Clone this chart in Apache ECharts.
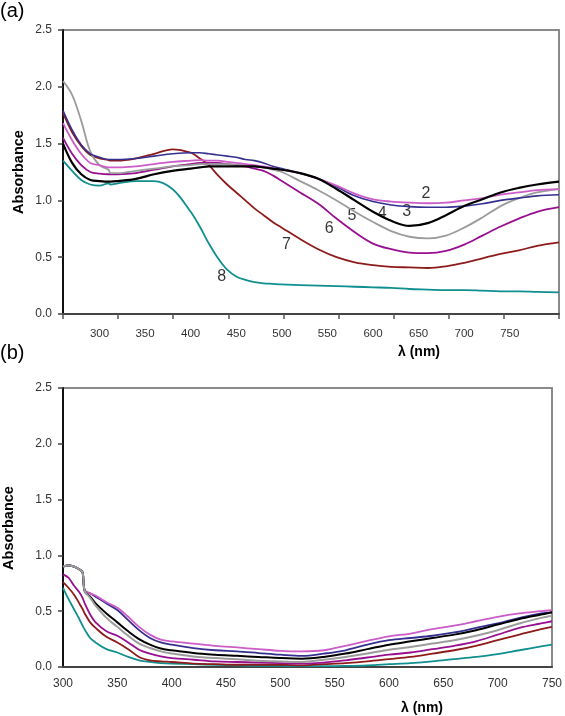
<!DOCTYPE html>
<html>
<head>
<meta charset="utf-8">
<script src="https://cdn.jsdelivr.net/npm/echarts@6/dist/echarts.min.js"></script>
<style>
html,body{margin:0;padding:0;background:#fff;}
#chart{width:565px;height:716px;}
</style>
</head>
<body>
<div id="chart"></div>
<script>
// ---------- Panel (a) ----------
const wlA = [260,270,280,290,300,310,312,320,340,360,380,400,410,420,430,440,450,460,470,480,490,500,520,540,560,580,600,620,640,660,680,700,720,740,760,780,804];
const a2 = [1.68,1.53,1.41,1.33,1.31,1.29,1.29,1.29,1.30,1.32,1.34,1.35,1.355,1.35,1.35,1.34,1.33,1.32,1.31,1.30,1.285,1.27,1.24,1.19,1.13,1.06,1.01,0.99,0.98,0.975,0.98,1.00,1.02,1.05,1.07,1.09,1.10];
const a3 = [1.79,1.62,1.49,1.41,1.38,1.36,1.36,1.36,1.37,1.39,1.41,1.42,1.42,1.41,1.40,1.39,1.38,1.36,1.35,1.33,1.30,1.28,1.24,1.19,1.12,1.04,0.99,0.96,0.945,0.94,0.94,0.95,0.97,1.00,1.02,1.04,1.05];
const a4 = [1.50,1.33,1.23,1.18,1.17,1.165,1.165,1.17,1.19,1.23,1.26,1.28,1.29,1.30,1.30,1.30,1.30,1.30,1.30,1.29,1.28,1.27,1.24,1.19,1.10,1.00,0.90,0.82,0.775,0.80,0.87,0.95,1.01,1.07,1.11,1.14,1.165];
const a5 = [2.05,1.93,1.70,1.43,1.31,1.27,1.24,1.24,1.26,1.28,1.30,1.31,1.32,1.32,1.32,1.32,1.315,1.31,1.30,1.29,1.27,1.25,1.17,1.09,1.00,0.90,0.81,0.73,0.68,0.665,0.69,0.76,0.85,0.95,1.02,1.07,1.10];
const a6 = [1.55,1.41,1.31,1.25,1.235,1.23,1.23,1.23,1.24,1.27,1.30,1.32,1.33,1.33,1.33,1.32,1.31,1.30,1.28,1.26,1.22,1.17,1.07,0.97,0.84,0.72,0.62,0.57,0.54,0.535,0.555,0.61,0.69,0.77,0.84,0.90,0.94];
const a7 = [1.77,1.60,1.48,1.40,1.37,1.355,1.35,1.35,1.37,1.41,1.45,1.42,1.37,1.31,1.22,1.14,1.07,1.00,0.93,0.87,0.81,0.76,0.66,0.57,0.50,0.455,0.43,0.415,0.41,0.405,0.42,0.45,0.49,0.53,0.56,0.60,0.63];
const a8 = [1.35,1.26,1.18,1.14,1.13,1.15,1.14,1.15,1.17,1.17,1.10,0.90,0.77,0.62,0.49,0.39,0.33,0.30,0.28,0.27,0.265,0.26,0.255,0.25,0.245,0.24,0.235,0.23,0.22,0.215,0.21,0.21,0.205,0.20,0.20,0.195,0.19];
const xLabelsA = [300,350,400,450,500,550,600,650,700,750];
const annotText = ['2','3','4','5','6','7','8'];
const annotWl = [658,637,610,577,552,505,434];
const annotAbs = [1.06,0.90,0.885,0.87,0.755,0.615,0.33];

// ---------- Panel (b) ----------
const wlB = [300,305,310,315,318,320,325,330,340,350,360,370,380,390,400,420,440,460,480,500,520,540,560,580,600,620,640,660,680,700,720,740,750];
const b2 = [0.90,0.91,0.90,0.875,0.85,0.69,0.66,0.64,0.58,0.53,0.45,0.36,0.29,0.245,0.23,0.21,0.19,0.175,0.16,0.145,0.14,0.15,0.19,0.235,0.275,0.30,0.34,0.37,0.41,0.45,0.48,0.50,0.51];
const b3 = [0.90,0.91,0.90,0.875,0.85,0.68,0.66,0.63,0.57,0.51,0.42,0.33,0.26,0.22,0.20,0.17,0.15,0.14,0.125,0.11,0.10,0.12,0.15,0.20,0.24,0.26,0.28,0.31,0.35,0.39,0.44,0.48,0.49];
const b4 = [0.90,0.91,0.90,0.875,0.85,0.68,0.63,0.57,0.48,0.40,0.32,0.25,0.20,0.165,0.15,0.125,0.11,0.10,0.09,0.08,0.075,0.09,0.12,0.16,0.20,0.23,0.26,0.29,0.33,0.38,0.43,0.47,0.49];
const b5 = [0.90,0.91,0.90,0.875,0.85,0.68,0.62,0.55,0.44,0.36,0.28,0.21,0.17,0.14,0.12,0.095,0.08,0.07,0.056,0.05,0.045,0.065,0.09,0.12,0.155,0.18,0.21,0.24,0.28,0.33,0.39,0.44,0.46];
const b6 = [0.83,0.80,0.73,0.67,0.62,0.57,0.47,0.40,0.32,0.28,0.22,0.155,0.12,0.095,0.08,0.065,0.05,0.045,0.04,0.035,0.03,0.04,0.06,0.085,0.11,0.13,0.16,0.19,0.23,0.29,0.35,0.39,0.41];
const b7 = [0.76,0.71,0.65,0.57,0.52,0.48,0.40,0.35,0.27,0.22,0.16,0.09,0.06,0.05,0.045,0.03,0.025,0.02,0.02,0.02,0.015,0.025,0.035,0.05,0.07,0.09,0.12,0.15,0.19,0.24,0.29,0.34,0.36];
const b8 = [0.71,0.61,0.52,0.43,0.37,0.335,0.26,0.22,0.16,0.13,0.09,0.06,0.045,0.035,0.03,0.025,0.02,0.015,0.01,0.01,0.008,0.008,0.01,0.015,0.025,0.035,0.05,0.07,0.09,0.115,0.15,0.185,0.20];

const colors = {c2:'#cc5cc8', c3:'#35308f', c4:'#000000', c5:'#9c9c9c', c6:'#980f90', c7:'#8e1b1b', c8:'#0f8f8f'};
const FONT = '"Liberation Sans", Arial, Helvetica, sans-serif';

const xMinA = 260, xMaxA = 804;
const tickCountA = 9;
const ticksA = [];
for (let k = 0; k <= tickCountA; k++) ticksA.push(xMinA + k * (xMaxA - xMinA) / tickCountA);

function pairs(x, y){ return x.map((v,i)=>[v,y[i]]); }

function lineSeries(idx, x, y, color, w){
  return {type:'line', xAxisIndex:idx, yAxisIndex:idx, data:pairs(x,y), showSymbol:false, symbol:'none',
          smooth:0.35, lineStyle:{color:color, width:w}, silent:true};
}

const yAxisCommon = {
  type:'value', min:0, max:2.5, interval:0.5,
  axisLine:{show:true, lineStyle:{color:'#111', width:2}},
  axisTick:{show:true, inside:false, length:5, lineStyle:{color:'#444', width:1.5}},
  axisLabel:{color:'#333', fontSize:12, fontFamily:FONT, margin:11, formatter:v=>v.toFixed(1)},
  splitLine:{show:false}
};

const option = {
  animation:false,
  backgroundColor:'#ffffff',
  grid:[
    {left:63, top:30, width:496, height:284, show:true, borderColor:'#8a8a8a', borderWidth:2, backgroundColor:'transparent'},
    {left:63, top:388, width:492, height:279, show:true, borderColor:'#8a8a8a', borderWidth:2, backgroundColor:'transparent'}
  ],
  xAxis:[
    {gridIndex:0, type:'value', min:xMinA, max:xMaxA,
     axisLine:{show:true, onZero:false, lineStyle:{color:'#444', width:2}},
     axisTick:{show:true, length:5, customValues:ticksA, lineStyle:{color:'#555', width:1.5}},
     axisLabel:{customValues:xLabelsA, color:'#333', fontSize:11.5, fontFamily:FONT, margin:14},
     splitLine:{show:false}},
    {gridIndex:1, type:'value', min:300, max:750, interval:50,
     axisLine:{show:true, onZero:false, lineStyle:{color:'#444', width:2}},
     axisTick:{show:false},
     axisLabel:{color:'#333', fontSize:12, fontFamily:FONT, margin:11, showMinLabel:true, showMaxLabel:true},
     splitLine:{show:false}}
  ],
  yAxis:[
    Object.assign({gridIndex:0}, yAxisCommon),
    Object.assign({gridIndex:1}, yAxisCommon)
  ],
  series:[
    lineSeries(0, wlA, a8, colors.c8, 1.8),
    lineSeries(0, wlA, a7, colors.c7, 1.8),
    lineSeries(0, wlA, a6, colors.c6, 1.8),
    lineSeries(0, wlA, a5, colors.c5, 1.8),
    lineSeries(0, wlA, a3, colors.c3, 1.6),
    lineSeries(0, wlA, a2, colors.c2, 1.8),
    lineSeries(0, wlA, a4, colors.c4, 2.2),
    {type:'scatter', xAxisIndex:0, yAxisIndex:0, symbolSize:0, silent:true,
     data:annotText.map((t,i)=>[annotWl[i], annotAbs[i], t]),
     label:{show:true, position:'inside', formatter:p=>p.data[2], color:'#000', fontSize:16, fontFamily:FONT}},
    lineSeries(1, wlB, b8, colors.c8, 1.8),
    lineSeries(1, wlB, b7, colors.c7, 1.8),
    lineSeries(1, wlB, b6, colors.c6, 1.8),
    lineSeries(1, wlB, b3, colors.c3, 1.8),
    lineSeries(1, wlB, b2, colors.c2, 1.8),
    lineSeries(1, wlB, b4, colors.c4, 2.0),
    lineSeries(1, wlB, b5, colors.c5, 2.0)
  ],
  graphic:[
    {type:'text', x:0, y:1, style:{text:'(a)', fill:'#000', fontSize:20, fontFamily:FONT, textAlign:'left', textVerticalAlign:'top', align:'left', verticalAlign:'top'}},
    {type:'text', x:0, y:343, style:{text:'(b)', fill:'#000', fontSize:20, fontFamily:FONT, textAlign:'left', textVerticalAlign:'top', align:'left', verticalAlign:'top'}},
    {type:'text', x:19, y:172, rotation:Math.PI/2, style:{text:'Absorbance', fill:'#000', fontSize:14.5, fontWeight:'bold', fontFamily:FONT, textAlign:'center', textVerticalAlign:'middle', align:'center', verticalAlign:'middle'}},
    {type:'text', x:9, y:528, rotation:Math.PI/2, style:{text:'Absorbance', fill:'#000', fontSize:14.5, fontWeight:'bold', fontFamily:FONT, textAlign:'center', textVerticalAlign:'middle', align:'center', verticalAlign:'middle'}},
    {type:'text', x:419, y:352, style:{text:'λ (nm)', fill:'#000', fontSize:14, fontWeight:'bold', fontFamily:FONT, textAlign:'center', textVerticalAlign:'middle', align:'center', verticalAlign:'middle'}},
    {type:'text', x:422, y:708, style:{text:'λ (nm)', fill:'#000', fontSize:14, fontWeight:'bold', fontFamily:FONT, textAlign:'center', textVerticalAlign:'middle', align:'center', verticalAlign:'middle'}}
  ]
};

const chart = echarts.init(document.getElementById('chart'), null, {renderer:'canvas'});
chart.setOption(option);
</script>
</body>
</html>
